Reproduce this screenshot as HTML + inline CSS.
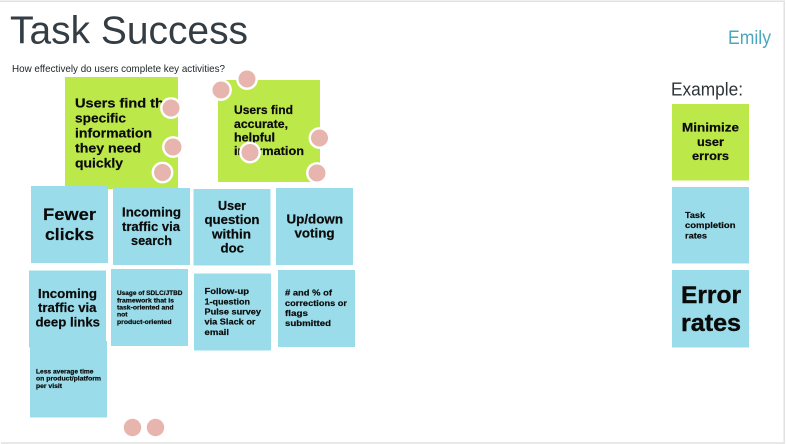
<!DOCTYPE html>
<html lang="en">
<head>
<meta charset="utf-8">
<title>Task Success</title>
<style>
html,body{margin:0;padding:0;background:#fff;width:786px;height:444px;overflow:hidden}
svg{display:block}
.r{font-family:"Liberation Sans",sans-serif}
.b{font-family:"Liberation Sans",sans-serif;font-weight:700;fill:#0b0b0b;stroke:#0b0b0b;stroke-width:.2}
.bl{fill:#9adcea}
.gr{fill:#bde84a}
.c{fill:#e7b4ae;stroke:#fff;stroke-width:2.4}
</style>
</head>
<body>
<svg width="786" height="444" viewBox="0 0 786 444" xmlns="http://www.w3.org/2000/svg">
<rect width="786" height="444" fill="#fff"/>
<rect x="0" y="0.5" width="785" height="1.5" fill="#e2e2e2"/>
<rect x="783.5" y="0.5" width="1.5" height="442" fill="#e2e2e2"/>
<rect x="1" y="442" width="784" height="2" fill="#e8e8e8"/>

<text class="r" x="10" y="43.5" font-size="39" fill="#343d44" textLength="238" lengthAdjust="spacingAndGlyphs">Task Success</text>
<text class="r" x="12" y="72" font-size="10.5" fill="#20262a" textLength="213" lengthAdjust="spacingAndGlyphs">How effectively do users complete key activities?</text>
<text class="r" x="728" y="44" font-size="19" fill="#4aa8ba" textLength="43" lengthAdjust="spacingAndGlyphs">Emily</text>
<text class="r" x="671" y="95.5" font-size="18" fill="#2c3338" textLength="72" lengthAdjust="spacingAndGlyphs">Example:</text>

<!-- green notes -->
<rect class="gr" x="65" y="77" width="113" height="112"/>
<rect class="gr" x="218" y="80" width="102" height="102"/>
<g class="b" font-size="13">
<text x="75" y="107.5" textLength="97" lengthAdjust="spacingAndGlyphs">Users find the</text>
<text x="75" y="122.5" textLength="51" lengthAdjust="spacingAndGlyphs">specific</text>
<text x="75" y="137.5" textLength="77" lengthAdjust="spacingAndGlyphs">information</text>
<text x="75" y="152.5" textLength="66" lengthAdjust="spacingAndGlyphs">they need</text>
<text x="75" y="167.5" textLength="48" lengthAdjust="spacingAndGlyphs">quickly</text>
</g>
<g class="b" font-size="11.7">
<text x="234" y="114" textLength="59" lengthAdjust="spacingAndGlyphs">Users find</text>
<text x="234" y="128" textLength="54" lengthAdjust="spacingAndGlyphs">accurate,</text>
<text x="234" y="141.5" textLength="41" lengthAdjust="spacingAndGlyphs">helpful</text>
<text x="234" y="155" textLength="70" lengthAdjust="spacingAndGlyphs">information</text>
</g>

<!-- blue notes -->
<rect class="bl" x="31" y="186" width="77" height="77"/>
<rect class="bl" x="113" y="188" width="77" height="77"/>
<rect class="bl" x="193.5" y="189" width="77" height="76.5"/>
<rect class="bl" x="276" y="188" width="77" height="77"/>
<rect class="bl" x="29" y="270.5" width="77" height="77"/>
<rect class="bl" x="111" y="269" width="77" height="77"/>
<rect class="bl" x="194" y="273.5" width="77" height="77"/>
<rect class="bl" x="278" y="270" width="77" height="77"/>
<rect class="bl" x="30" y="341" width="77" height="76.5"/>

<g class="b" font-size="17">
<text x="43" y="220" textLength="53" lengthAdjust="spacingAndGlyphs">Fewer</text>
<text x="45" y="240" textLength="49" lengthAdjust="spacingAndGlyphs">clicks</text>
</g>
<g class="b" font-size="12.5">
<text x="122" y="216.5" textLength="59" lengthAdjust="spacingAndGlyphs">Incoming</text>
<text x="122" y="231" textLength="58" lengthAdjust="spacingAndGlyphs">traffic via</text>
<text x="131" y="245" textLength="41" lengthAdjust="spacingAndGlyphs">search</text>
<text x="218" y="210" textLength="28" lengthAdjust="spacingAndGlyphs">User</text>
<text x="204.5" y="224" textLength="55" lengthAdjust="spacingAndGlyphs">question</text>
<text x="212" y="238.5" textLength="39" lengthAdjust="spacingAndGlyphs">within</text>
<text x="220.5" y="252.5" textLength="23.5" lengthAdjust="spacingAndGlyphs">doc</text>
<text x="286.5" y="223.5" textLength="56.5" lengthAdjust="spacingAndGlyphs">Up/down</text>
<text x="294.5" y="237.5" textLength="40" lengthAdjust="spacingAndGlyphs">voting</text>
<text x="38" y="298" textLength="59" lengthAdjust="spacingAndGlyphs">Incoming</text>
<text x="38" y="312" textLength="58.5" lengthAdjust="spacingAndGlyphs">traffic via</text>
<text x="35.5" y="326.5" textLength="64.5" lengthAdjust="spacingAndGlyphs">deep links</text>
</g>
<g class="b" font-size="6">
<text x="117" y="295" textLength="65.5" lengthAdjust="spacingAndGlyphs">Usage of SDLC/JTBD</text>
<text x="117" y="302.5" textLength="57" lengthAdjust="spacingAndGlyphs">framework that is</text>
<text x="117" y="309.5" textLength="56.5" lengthAdjust="spacingAndGlyphs">task-oriented and</text>
<text x="117" y="316.5" textLength="10.5" lengthAdjust="spacingAndGlyphs">not</text>
<text x="117" y="324" textLength="54.5" lengthAdjust="spacingAndGlyphs">product-oriented</text>
<text x="36" y="373.5" textLength="57.5" lengthAdjust="spacingAndGlyphs">Less average time</text>
<text x="36" y="380.5" textLength="65" lengthAdjust="spacingAndGlyphs">on product/platform</text>
<text x="36" y="388" textLength="26" lengthAdjust="spacingAndGlyphs">per visit</text>
</g>
<g class="b" font-size="8.5">
<text x="204.5" y="294" textLength="44.5" lengthAdjust="spacingAndGlyphs">Follow-up</text>
<text x="204.5" y="304.5" textLength="45.5" lengthAdjust="spacingAndGlyphs">1-question</text>
<text x="204.5" y="314.5" textLength="56.5" lengthAdjust="spacingAndGlyphs">Pulse survey</text>
<text x="204.5" y="324.5" textLength="51" lengthAdjust="spacingAndGlyphs">via Slack or</text>
<text x="204.5" y="335" textLength="24.5" lengthAdjust="spacingAndGlyphs">email</text>
<text x="285" y="295.5" textLength="47" lengthAdjust="spacingAndGlyphs"># and % of</text>
<text x="285" y="306" textLength="62" lengthAdjust="spacingAndGlyphs">corrections or</text>
<text x="285" y="316" textLength="23" lengthAdjust="spacingAndGlyphs">flags</text>
<text x="285" y="326" textLength="46" lengthAdjust="spacingAndGlyphs">submitted</text>
</g>

<!-- example column -->
<rect class="gr" x="672" y="104" width="77" height="76.5"/>
<rect class="bl" x="672" y="187" width="77" height="76.5"/>
<rect class="bl" x="672" y="270" width="77" height="77.5"/>
<g class="b" font-size="11.5">
<text x="682" y="131.5" textLength="57" lengthAdjust="spacingAndGlyphs">Minimize</text>
<text x="697" y="146" textLength="27" lengthAdjust="spacingAndGlyphs">user</text>
<text x="692" y="160" textLength="37" lengthAdjust="spacingAndGlyphs">errors</text>
</g>
<g class="b" font-size="8.5">
<text x="685" y="218" textLength="20" lengthAdjust="spacingAndGlyphs">Task</text>
<text x="685" y="228" textLength="50.5" lengthAdjust="spacingAndGlyphs">completion</text>
<text x="685" y="238.5" textLength="22" lengthAdjust="spacingAndGlyphs">rates</text>
</g>
<g class="b" font-size="24">
<text x="681" y="303" textLength="60" lengthAdjust="spacingAndGlyphs" stroke-width=".4">Error</text>
<text x="681" y="331" textLength="60" lengthAdjust="spacingAndGlyphs" stroke-width=".4">rates</text>
</g>

<!-- dots -->
<circle class="c" cx="171" cy="108" r="9.7"/>
<circle class="c" cx="173" cy="147" r="9.7"/>
<circle class="c" cx="162.5" cy="172.5" r="9.7"/>
<circle class="c" cx="221" cy="90" r="9.7"/>
<circle class="c" cx="247" cy="79" r="9.7"/>
<circle class="c" cx="319.5" cy="138" r="9.7"/>
<circle class="c" cx="250" cy="152.5" r="9.7"/>
<circle class="c" cx="317" cy="173" r="9.7"/>
<circle cx="132.5" cy="427.5" r="8.7" fill="#e7b4ae"/>
<circle cx="155.5" cy="427.5" r="8.7" fill="#e7b4ae"/>
</svg>
</body>
</html>
